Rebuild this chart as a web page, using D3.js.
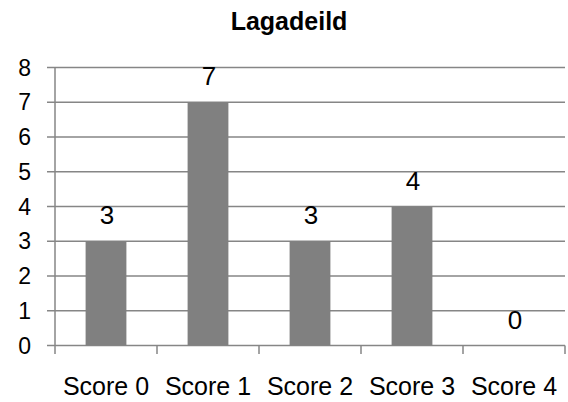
<!DOCTYPE html>
<html><head><meta charset="utf-8">
<script src="https://cdn.jsdelivr.net/npm/d3@7"></script>
<style>body{margin:0;background:#fff}svg{display:block}text{font-family:Arial,"Liberation Sans",sans-serif}</style>
</head><body>
<script>
const title = "Lagadeild";
const categories = ["Score 0","Score 1","Score 2","Score 3","Score 4"];
const values = [3,7,3,4,0];
const yTicks = [0,1,2,3,4,5,6,7,8];

const W=568,H=402;
const svg=d3.select("body").append("svg").attr("width",W).attr("height",H);
const x=d3.scaleBand().domain(categories).range([55,565]).paddingInner(0.6).paddingOuter(0.3);
const xb=d3.scaleBand().domain(categories).range([55,565]);
const y=d3.scaleLinear().domain([0,8]).range([345.5,67.5]);
const grey="#868686";

// gridlines
svg.append("g").selectAll("line").data(yTicks).join("line")
  .attr("x1",47).attr("x2",565).attr("y1",d=>y(d)).attr("y2",d=>y(d))
  .attr("stroke",grey).attr("stroke-width",1.5);
// y axis
svg.append("line").attr("x1",55).attr("x2",55).attr("y1",y(8)).attr("y2",354).attr("stroke",grey).attr("stroke-width",1.5);
// x ticks
const bounds=categories.map(c=>xb(c)).concat([565]);
svg.append("g").selectAll("line").data(bounds.slice(1)).join("line")
  .attr("x1",d=>d).attr("x2",d=>d).attr("y1",y(0)).attr("y2",354).attr("stroke",grey).attr("stroke-width",1.5);
// y labels
svg.append("g").selectAll("text").data(yTicks).join("text")
  .attr("x",31).attr("y",d=>y(d)+8).attr("text-anchor","end").attr("font-size",23).attr("fill","#000").text(d=>d);
// bars
svg.append("g").selectAll("rect").data(values).join("rect")
  .attr("x",(d,i)=>x(categories[i])).attr("width",x.bandwidth())
  .attr("y",d=>y(d)).attr("height",d=>y(0)-y(d)).attr("fill","#808080");
// data labels
svg.append("g").selectAll("text").data(values).join("text")
  .attr("x",(d,i)=>x(categories[i])+x.bandwidth()/2+1).attr("y",d=>y(d)-17)
  .attr("text-anchor","middle").attr("font-size",26).text(d=>d);
// x labels
svg.append("g").selectAll("text").data(categories).join("text")
  .attr("x",c=>xb(c)+xb.bandwidth()/2).attr("y",395).attr("text-anchor","middle").attr("font-size",25).text(c=>c);
// title
svg.append("text").attr("x",289).attr("y",30).attr("text-anchor","middle").attr("font-size",25).attr("font-weight","bold").text(title);
</script>
</body></html>
